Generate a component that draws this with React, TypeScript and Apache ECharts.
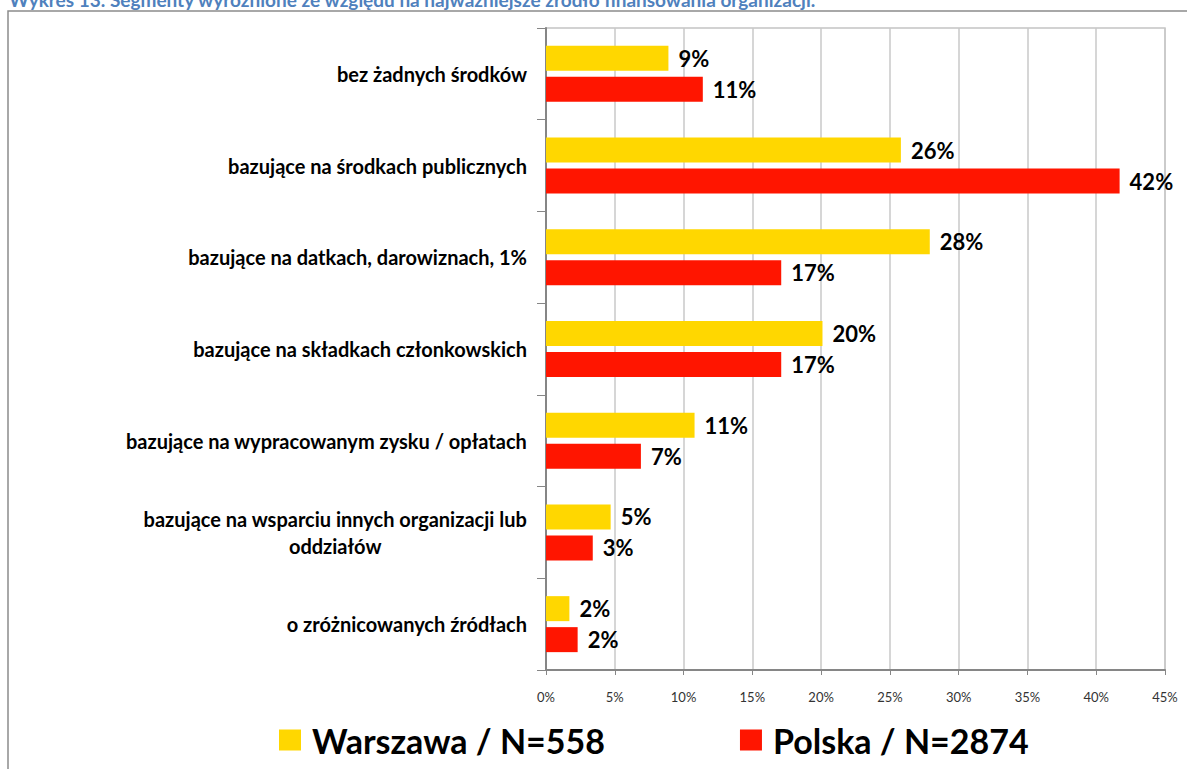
import React, { useEffect, useRef } from "react";
import * as echarts from "echarts";

const titleText =
  "Wykres 13. Segmenty wyróżnione ze względu na najważniejsze źródło finansowania organizacji.";

const categories = [
  "bez żadnych środków",
  "bazujące na środkach publicznych",
  "bazujące na datkach, darowiznach, 1%",
  "bazujące na składkach członkowskich",
  "bazujące na wypracowanym zysku / opłatach",
  "bazujące na wsparciu innych organizacji lub\noddziałów",
  "o zróżnicowanych źródłach",
];

const seriesNames = ["Warszawa / N=558", "Polska / N=2874"];
const warszawa = [8.9, 25.8, 27.9, 20.1, 10.8, 4.7, 1.7];
const polska = [11.4, 41.7, 17.1, 17.1, 6.9, 3.4, 2.3];

const xMin = 0;
const xMax = 45;
const xStep = 5;

const YELLOW = "#FFD700";
const RED = "#FF1500";
const FONT = "Lato";

export default function App() {
  const ref = useRef<HTMLDivElement>(null);

  useEffect(() => {
    if (!ref.current) return;
    const chart = echarts.init(ref.current, null, { renderer: "svg" });

    const valueLabel = {
      show: true,
      position: "right",
      distance: 10,
      fontFamily: FONT,
      fontWeight: "bold",
      fontSize: 22,
      color: "#000",
      formatter: (p: any) => Math.round(p.value) + "%",
    };

    chart.setOption({
      animation: false,
      backgroundColor: "#fff",
      textStyle: { fontFamily: FONT },
      graphic: [
        {
          type: "rect",
          shape: { x: 8, y: 11, width: 1400, height: 1000 },
          style: { fill: "none", stroke: "#8c8c8c", lineWidth: 1.5 },
          silent: true,
        },
        {
          type: "text",
          x: 9,
          y: 9,
          style: {
            text: titleText,
            fontFamily: FONT,
            fontWeight: "bold",
            fontSize: 19,
            fill: "#4F81BD",
            verticalAlign: "bottom",
          },
          silent: true,
        },
      ],
      grid: {
        left: 546,
        right: 22,
        top: 28,
        bottom: 99,
        show: true,
        borderColor: "#c4c4c4",
        borderWidth: 1.5,
        backgroundColor: "transparent",
      },
      legend: {
        left: 274,
        top: 718,
        icon: "rect",
        itemWidth: 22,
        itemHeight: 21,
        itemGap: 135,
        data: seriesNames,
        textStyle: {
          fontFamily: FONT,
          fontWeight: "bold",
          fontSize: 34,
          color: "#000",
          padding: [0, 0, 0, 6],
        },
      },
      xAxis: {
        type: "value",
        min: xMin,
        max: xMax,
        interval: xStep,
        axisLine: { show: true, lineStyle: { color: "#868686", width: 2 } },
        axisTick: { show: true, length: 5, lineStyle: { color: "#868686" } },
        axisLabel: {
          formatter: "{value}%",
          margin: 20,
          fontSize: 13,
          color: "#333",
          fontFamily: FONT,
        },
        splitLine: { show: true, lineStyle: { color: "#c8c8c8", width: 1.5 } },
      },
      yAxis: {
        type: "category",
        inverse: true,
        data: categories,
        axisLine: { show: true, lineStyle: { color: "#868686", width: 2 } },
        axisTick: { show: true, length: 9, lineStyle: { color: "#868686" } },
        axisLabel: {
          margin: 19,
          formatter: (v: string) =>
            v
              .split("\n")
              .map((l) => "{c|" + l + "}")
              .join("\n"),
          rich: {
            c: {
              align: "center",
              fontFamily: FONT,
              fontWeight: "bold",
              fontSize: 20,
              color: "#000",
              lineHeight: 27,
            },
          },
        },
        splitLine: { show: false },
      },
      series: [
        {
          name: seriesNames[0],
          type: "bar",
          data: warszawa,
          barWidth: 25,
          barGap: "24%",
          itemStyle: { color: YELLOW },
          label: valueLabel,
        },
        {
          name: seriesNames[1],
          type: "bar",
          data: polska,
          barWidth: 25,
          barGap: "24%",
          itemStyle: { color: RED },
          label: valueLabel,
        },
      ],
    });

    return () => chart.dispose();
  }, []);

  return (
    <div
      ref={ref}
      style={{ position: "fixed", left: 0, top: 0, width: 1187, height: 769 }}
    />
  );
}
